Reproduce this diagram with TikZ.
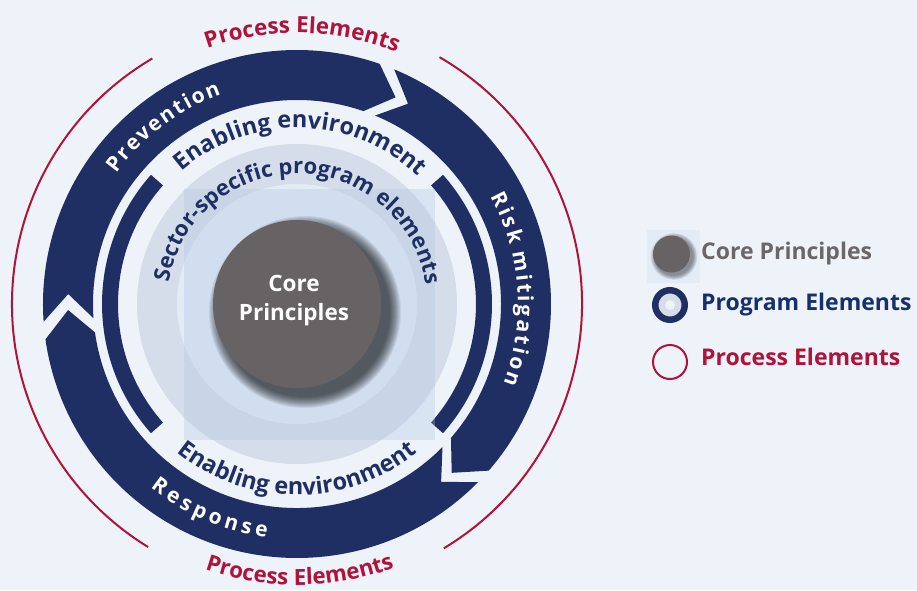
\documentclass[tikz,border=0pt]{standalone}
\usepackage{fontspec}
\setmainfont{Open Sans}
\usetikzlibrary{decorations.text}
\definecolor{bgblue}{HTML}{EEF3F9}
\definecolor{navy}{HTML}{1F2F64}
\definecolor{procred}{HTML}{B0133A}
\definecolor{coregray}{HTML}{676264}
\definecolor{ringgray}{HTML}{D4DDE9}
\definecolor{innerdisk}{HTML}{E3EBF5}
\definecolor{squareblue}{HTML}{A9C3E3}
\definecolor{legendgray}{HTML}{6B6668}
\definecolor{legendblue}{HTML}{15306B}
\newcommand{\labelsize}{\fontsize{21}{25}\selectfont}
\newcommand{\flowarrow}[2]{%
  \fill[navy] (#1:254) arc[start angle=#1, end angle=#2, radius=254]
    -- ({#2-6.5}:229) -- (#2:204) arc[start angle=#2, end angle=#1, radius=204]
    -- ({#1-6.5}:229) -- cycle;}
\tikzset{
  arclabel/.style={decorate, decoration={text along path, text align=center, #1}},
  legendtext/.style={anchor=west, inner sep=0, font=\fontsize{23}{26}\selectfont\bfseries},
}

\begin{document}
\begin{tikzpicture}[x=1pt,y=1pt]
    \useasboundingbox (-297,-286) rectangle (620,304);
    \fill[bgblue] (-297,-286) rectangle (620,304);
    \draw[procred, line width=2] (120.5:285) arc[start angle=120.5, end angle=238.5, radius=285];
    \draw[procred, line width=2] (-59:285) arc[start angle=-59, end angle=60, radius=285];
    \flowarrow{184}{71}
    \flowarrow{67.5}{-41}
    \flowarrow{-44.5}{-172}
    \fill[navy] (138.5:195) arc[start angle=138.5, end angle=221.5, radius=195]
        -- (221.5:179) arc[start angle=221.5, end angle=138.5, radius=179] -- cycle;
    \fill[navy] (-41.5:195) arc[start angle=-41.5, end angle=41.5, radius=195]
        -- (41.5:179) arc[start angle=41.5, end angle=-41.5, radius=179] -- cycle;
    \fill[ringgray] (0,0) circle (160);
    \fill[innerdisk] (0,0) circle (120);
    \fill[squareblue, fill opacity=0.3] (-113,-136) rectangle (138,115);
    \foreach \i in {1,...,12}
        \fill[black, opacity=0.07] (8,-8) circle ({84+\i});
    \node[circle, fill=coregray, minimum size=168, inner sep=0] (core) at (0,0) {};
    \node[align=center, text=white, font=\fontsize{22.5}{29}\selectfont\bfseries] (coretext) at (-3,3) {Core\\Principles};
    \path[arclabel={text color=white, text={|\labelsize\bfseries|{P\kern2pt}{r\kern2pt}{e\kern2pt}{v\kern2pt}{e\kern2pt}{n\kern2pt}{t\kern2pt}{i\kern2pt}{o\kern2pt}{n}}}]
        (150:223) arc[start angle=150, end angle=104, radius=223];
    \path[arclabel={text color=white, text={|\labelsize\bfseries|{R\kern2.6pt}{i\kern2.6pt}{s\kern2.6pt}{k\kern2.6pt} {m\kern2.6pt}{i\kern2.6pt}{t\kern2.6pt}{i\kern2.6pt}{g\kern2.6pt}{a\kern2.6pt}{t\kern2.6pt}{i\kern2.6pt}{o\kern2.6pt}{n}}}]
        (39:221) arc[start angle=39, end angle=-31, radius=221];
    \path[arclabel={text color=white, text={|\labelsize\bfseries|{R\kern4pt}{e\kern4pt}{s\kern4pt}{p\kern4pt}{o\kern4pt}{n\kern4pt}{s\kern4pt}{e}}}]
        (222:235) arc[start angle=222, end angle=272, radius=235];
    \path[arclabel={text color=navy, text={|\fontsize{23.5}{25}\selectfont\bfseries|Enabling environment}}]
        (133.7:176) arc[start angle=133.7, end angle=43.7, radius=176];
    \path[arclabel={text color=navy, text={|\fontsize{23.5}{25}\selectfont\bfseries|Enabling environment}}]
        (225:191) arc[start angle=225, end angle=315, radius=191];
    \path[arclabel={text color=navy, text={|\fontsize{22}{25}\selectfont\bfseries|Sector-specific program elements}}]
        (178.5:130) arc[start angle=178.5, end angle=0.5, radius=130];
    \path[arclabel={text color=procred, text={|\fontsize{22.3}{25}\selectfont\bfseries|Process Elements}}]
        (113.9:271) arc[start angle=113.9, end angle=63.9, radius=271];
    \path[arclabel={text color=procred, text={|\fontsize{22.3}{25}\selectfont\bfseries|Process Elements}}]
        (245.6:281) arc[start angle=245.6, end angle=295.6, radius=281];
    \fill[innerdisk] (350,21) rectangle (403,74);
    \foreach \i in {1,...,6}
        \fill[black, opacity=0.08] (377,47.5) circle ({18.5+0.8*\i});
    \node[circle, fill=coregray, minimum size=37, inner sep=0] (lcore) at (374.5,50) {};
    \node[circle, draw=navy, line width=6.5, fill=ringgray, minimum size=29.5, inner sep=0] (lprog) at (373,-1) {};
    \fill[bgblue] (lprog) circle (5);
    \node[circle, draw=procred, line width=2, minimum size=34, inner sep=0] (lproc) at (373,-58) {};
    \node[legendtext, text=legendgray] (tcore) at (404,50) {Core Principles};
    \node[legendtext, text=legendblue] (tprog) at (404,-1) {Program Elements};
    \node[legendtext, text=procred] (tproc) at (404,-53) {Process Elements};
\end{tikzpicture}
\end{document}
